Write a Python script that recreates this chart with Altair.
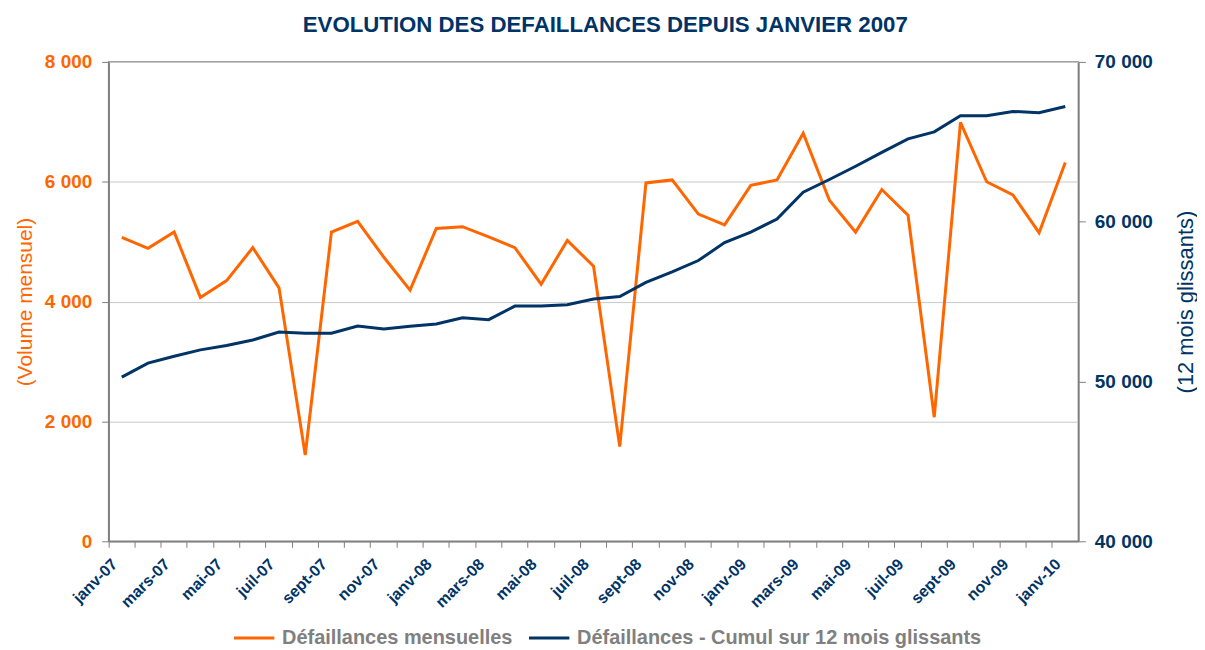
import altair as alt
import pandas as pd

months = ["janv-07", "févr-07", "mars-07", "avr-07", "mai-07", "juin-07", "juil-07", "août-07",
          "sept-07", "oct-07", "nov-07", "déc-07",
          "janv-08", "févr-08", "mars-08", "avr-08", "mai-08", "juin-08", "juil-08", "août-08",
          "sept-08", "oct-08", "nov-08", "déc-08",
          "janv-09", "févr-09", "mars-09", "avr-09", "mai-09", "juin-09", "juil-09", "août-09",
          "sept-09", "oct-09", "nov-09", "déc-09",
          "janv-10"]

mensuel = [5070, 4890, 5160, 4070, 4350, 4900, 4230, 1440, 5160, 5340, 4740, 4190,
           5220, 5250, 5080, 4900, 4290, 5020, 4590, 1580, 5980, 6030, 5460, 5280,
           5940, 6030, 6810, 5690, 5160, 5870, 5440, 2070, 6990, 6000, 5780, 5150,
           6320]

cumul = [50270, 51150, 51580, 51980, 52250, 52600, 53100, 53020, 53020, 53470, 53290, 53450,
         53600, 53990, 53870, 54720, 54720, 54800, 55160, 55320, 56200, 56860, 57570, 58690,
         59350, 60170, 61850, 62640, 63470, 64340, 65180, 65620, 66630, 66630, 66900, 66820,
         67210]

series_names = ["Défaillances mensuelles", "Défaillances - Cumul sur 12 mois glissants"]
left_ticks = [0, 2000, 4000, 6000, 8000]
right_ticks = [40000, 50000, 60000, 70000]
shown_months = ["janv", "mars", "mai", "juil", "sept", "nov"]

ORANGE = "#FF6600"
NAVY = "#003366"

df = pd.DataFrame({"mois": months, "mensuel": mensuel, "cumul": cumul})

label_expr = ("indexof(" + str(shown_months).replace('"', "'") +
              ", split(datum.value, '-')[0]) >= 0 ? datum.value : ''")
num_expr = "replace(format(datum.value, ','), ',', ' ')"

x_enc = alt.X(
    "mois:N", sort=None, bandPosition=0.5,
    scale=alt.Scale(type="band", paddingInner=0, paddingOuter=0),
    axis=alt.Axis(
        title=None, bandPosition=0, labelExpr=label_expr, labelAngle=-45,
        labelAlign="right", labelBaseline="middle", labelOffset=-7,
        labelFont="Liberation Sans", labelFontSize=16, labelFontWeight="bold",
        labelColor=NAVY, labelPadding=14, tickSize=6, tickColor="#808080",
        domainColor="#808080", domainWidth=1.5, grid=False, labelOverlap=False,
    ),
)

color_scale = alt.Scale(domain=series_names, range=[ORANGE, NAVY])

line_m = alt.Chart(df).mark_line(strokeWidth=3).encode(
    x=x_enc,
    y=alt.Y("mensuel:Q",
            scale=alt.Scale(domain=[0, 8000], nice=False),
            axis=alt.Axis(title="(Volume mensuel)", values=left_ticks, labelExpr=num_expr,
                          orient="left", titleColor=ORANGE, titleFontWeight="normal",
                          titleFont="Liberation Sans", titleFontSize=21, titlePadding=9,
                          labelFont="Liberation Sans", labelFontSize=19,
                          labelFontWeight="bold", labelColor=ORANGE, labelPadding=10,
                          tickSize=7, tickColor="#808080", domainColor="#808080",
                          domainWidth=1.5, grid=True, gridColor="#C8C8C8")),
    color=alt.Color("s:N", scale=color_scale,
                    legend=alt.Legend(title=None, orient="none", legendX=124, legendY=556,
                                      direction="horizontal", padding=0,
                                      symbolType="stroke", symbolSize=1640,
                                      symbolStrokeWidth=3, labelFont="Liberation Sans",
                                      labelFontSize=20, labelFontWeight="bold",
                                      labelColor="#808080", labelLimit=600,
                                      columnPadding=9, labelOffset=6)),
).transform_calculate(s="'" + series_names[0] + "'")

line_c = alt.Chart(df).mark_line(strokeWidth=3).encode(
    x=x_enc,
    y=alt.Y("cumul:Q",
            scale=alt.Scale(domain=[40000, 70000], nice=False),
            axis=alt.Axis(title="(12 mois glissants)", values=right_ticks, labelExpr=num_expr,
                          orient="right", titleColor=NAVY, titleFontWeight="normal",
                          titleFont="Liberation Sans", titleFontSize=22, titleAngle=270,
                          titlePadding=45,
                          labelFont="Liberation Sans", labelFontSize=19,
                          labelFontWeight="bold", labelColor=NAVY, labelPadding=9,
                          tickSize=7, tickColor="#808080", domainColor="#808080",
                          domainWidth=1.5, grid=False)),
    color=alt.Color("s:N", scale=color_scale),
).transform_calculate(s="'" + series_names[1] + "'")

chart = alt.layer(line_m, line_c).resolve_scale(y="independent").properties(
    width=973, height=481,
    padding={"left": 6, "top": 4, "right": 0, "bottom": 0},
    title=alt.TitleParams("EVOLUTION DES DEFAILLANCES DEPUIS JANVIER 2007",
                          font="Liberation Sans", fontSize=22.3, fontWeight="bold",
                          color=NAVY, anchor="middle", frame="bounds", offset=17),
).configure_view(stroke="#808080", strokeWidth=1.5)

chart.save("out.html", embed_options={"renderer": "svg", "actions": False})
